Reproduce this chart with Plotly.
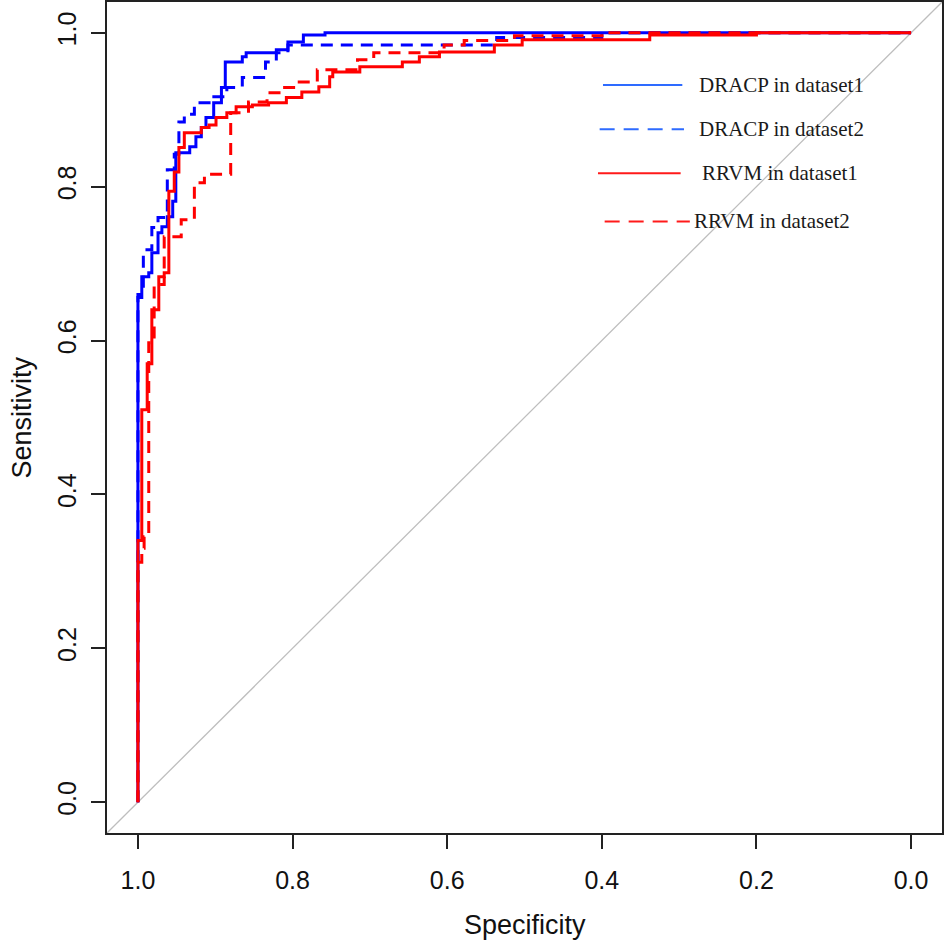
import plotly.graph_objects as go

# ---------------- data ----------------
dracp1_spec = [1.0, 1.0, 0.995, 0.986, 0.982, 0.974, 0.969, 0.962, 0.955, 0.951, 0.933, 0.925,
               0.918, 0.912, 0.902, 0.892, 0.887, 0.865, 0.860, 0.821, 0.806, 0.786, 0.758, 0.0]
dracp1_sens = [0.0, 0.656, 0.683, 0.688, 0.714, 0.740, 0.748, 0.761, 0.781, 0.844, 0.852, 0.865,
               0.877, 0.890, 0.909, 0.929, 0.962, 0.969, 0.974, 0.978, 0.988, 0.997, 1.0, 1.0]

dracp2_spec = [1.0, 1.0, 0.993, 0.982, 0.974, 0.962, 0.953, 0.947, 0.940, 0.927, 0.908, 0.885,
               0.865, 0.835, 0.821, 0.806, 0.536, 0.400, 0.0]
dracp2_sens = [0.0, 0.660, 0.718, 0.747, 0.760, 0.822, 0.842, 0.884, 0.894, 0.909, 0.917, 0.929,
               0.942, 0.962, 0.974, 0.984, 0.994, 1.0, 1.0]

rrvm1_spec = [1.0, 1.0, 0.995, 0.988, 0.982, 0.973, 0.966, 0.960, 0.953, 0.947, 0.940, 0.918,
              0.908, 0.899, 0.885, 0.873, 0.852, 0.831, 0.808, 0.788, 0.766, 0.752, 0.748, 0.713,
              0.658, 0.636, 0.610, 0.539, 0.503, 0.338, 0.200, 0.0]
rrvm1_sens = [0.0, 0.340, 0.510, 0.570, 0.640, 0.683, 0.688, 0.794, 0.819, 0.851, 0.870, 0.877,
              0.880, 0.890, 0.896, 0.904, 0.906, 0.909, 0.916, 0.923, 0.930, 0.943, 0.949, 0.956,
              0.962, 0.969, 0.975, 0.984, 0.991, 0.997, 1.0, 1.0]

rrvm2_spec = [1.0, 1.0, 0.995, 0.992, 0.986, 0.979, 0.966, 0.944, 0.927, 0.914, 0.880, 0.857,
              0.833, 0.814, 0.796, 0.768, 0.716, 0.695, 0.604, 0.578, 0.513, 0.392, 0.0]
rrvm2_sens = [0.0, 0.312, 0.330, 0.345, 0.597, 0.673, 0.735, 0.757, 0.805, 0.816, 0.896, 0.910,
              0.922, 0.929, 0.936, 0.952, 0.965, 0.974, 0.984, 0.990, 0.996, 1.0, 1.0]

tick_vals = [1.0, 0.8, 0.6, 0.4, 0.2, 0.0]
tick_text = ["1.0", "0.8", "0.6", "0.4", "0.2", "0.0"]

legend_labels = ["DRACP in dataset1", "DRACP in dataset2", "RRVM in dataset1", "RRVM in dataset2"]
x_title = "Specificity"
y_title = "Sensitivity"

# ---------------- figure ----------------
BLUE = "#0000FF"
RED = "#FF0000"
DASH = "12px,8px"

fig = go.Figure()
series = [
    (dracp1_spec, dracp1_sens, BLUE, "solid", legend_labels[0]),
    (dracp2_spec, dracp2_sens, BLUE, DASH, legend_labels[1]),
    (rrvm1_spec, rrvm1_sens, RED, "solid", legend_labels[2]),
    (rrvm2_spec, rrvm2_sens, RED, DASH, legend_labels[3]),
]
for xs, ys, col, dash, name in series:
    fig.add_trace(go.Scatter(
        x=xs, y=ys, mode="lines", name=name, showlegend=False,
        line=dict(color=col, width=3, dash=dash, shape="hv"),
        hoverinfo="skip",
    ))

# chance diagonal
fig.add_shape(type="line", xref="x", yref="y", x0=1.04, y0=-0.04, x1=-0.04, y1=1.04,
              line=dict(color="#BEBEBE", width=1.3), layer="below")

# hand-placed legend (as in the reference)
leg_rows = [
    # x0, x1, y, text_x, colour, dash
    (0.594, 0.689, 0.900, 0.707, "#2E6BFF", "solid"),
    (0.590, 0.691, 0.847, 0.707, "#2E6BFF", "15px,9px"),
    (0.588, 0.687, 0.794, 0.710, "#FF1A1A", "solid"),
    (0.596, 0.698, 0.736, 0.701, "#FF1A1A", "15px,9px"),
]
for (x0, x1, y, tx, col, dash), lab in zip(leg_rows, legend_labels):
    fig.add_shape(type="line", xref="paper", yref="paper", x0=x0, x1=x1, y0=y, y1=y,
                  line=dict(color=col, width=2, dash=dash))
    fig.add_annotation(xref="paper", yref="paper", x=tx, y=y, text=lab, showarrow=False,
                       xanchor="left", yanchor="middle",
                       font=dict(family="Liberation Serif, Times New Roman, serif", size=21,
                                 color="#1A1A1A"))

axis_font = dict(family="Liberation Sans, Arial, sans-serif", size=25, color="#111111")
title_font = dict(family="Liberation Sans, Arial, sans-serif", size=27, color="#111111")

# axis titles
fig.add_annotation(xref="paper", yref="paper", x=0.5, y=-0.1107, text=x_title,
                   showarrow=False, xanchor="center", yanchor="middle", font=title_font)
fig.add_annotation(xref="paper", yref="paper", x=-0.1018, y=0.5, text=y_title,
                   showarrow=False, xanchor="center", yanchor="middle", textangle=-90,
                   font=title_font)

fig.update_layout(
    width=944, height=944,
    margin=dict(l=107, r=2, t=2, b=111),
    paper_bgcolor="white", plot_bgcolor="white",
    xaxis=dict(
        range=[1.04, -0.04], tickvals=tick_vals, ticktext=tick_text,
        ticks="outside", ticklen=14, tickwidth=1.5, tickcolor="#222222",
        showline=True, mirror=True, linecolor="#222222", linewidth=2,
        showgrid=False, zeroline=False, tickfont=axis_font,
        ticklabelstandoff=10, automargin=False,
    ),
    yaxis=dict(
        range=[-0.04, 1.04], tickvals=tick_vals, ticktext=tick_text,
        ticks="outside", ticklen=14, tickwidth=1.5, tickcolor="#222222",
        showline=True, mirror=True, linecolor="#222222", linewidth=2,
        showgrid=False, zeroline=False, tickfont=axis_font, tickangle=-90,
        ticklabelstandoff=5, automargin=False,
    ),
)

fig.write_html("out.html",
               config={"displayModeBar": False},
               post_script="document.body.style.margin='0px';document.body.style.overflow='hidden';")
